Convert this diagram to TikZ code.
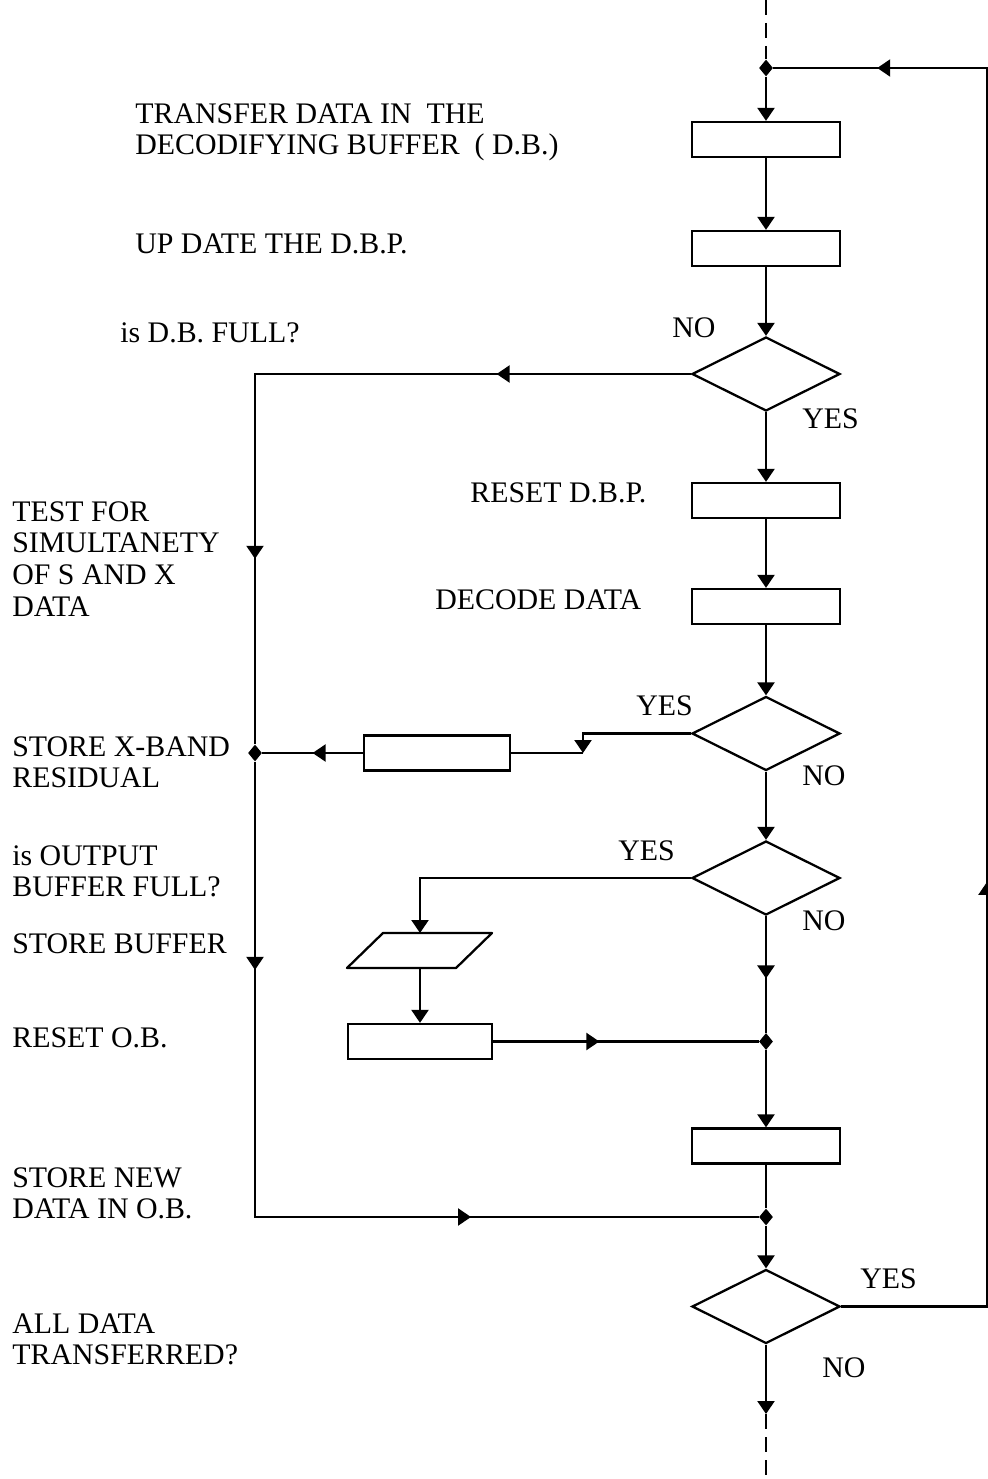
\documentclass[tikz,border=0pt]{standalone}
\usepackage{fontspec}
\setmainfont{Liberation Serif}
\usetikzlibrary{shapes.geometric, arrows.meta, positioning, decorations.markings, calc}

\tikzset{
  flowline/.style={line width=1.3pt},
  procbox/.style={draw, line width=1.3pt, minimum width=2.96cm, minimum height=0.7cm, inner sep=0pt},
  decbox/.style={draw, diamond, line width=1.3pt, minimum width=2.96cm, minimum height=1.48cm, inner sep=0pt},
  junction/.style={diamond, fill, inner sep=0pt, minimum width=0.28cm, minimum height=0.34cm},
  lbl/.style={font=\fontsize{17}{18.1}\selectfont, anchor=north west, inner sep=0pt, align=left},
  tip/.style={-{Triangle[width=0.34cm,length=0.26cm]}},
  midtip/.style={postaction={decorate, decoration={markings,
    mark=at position #1 with {\arrow{Triangle[width=0.34cm,length=0.26cm]}}}}},
}

\begin{document}
\begin{tikzpicture}[x=0.02cm, y=-0.02cm]
  \useasboundingbox (0,0) rectangle (987,1479);

  % main column
  \node[procbox] (transfer) at (766,139.5) {};
  \node[procbox] (update) at (766,248.5) {};
  \node[decbox] (dbfull) at (766,374) {};
  \node[procbox] (resetdbp) at (766,500.5) {};
  \node[procbox] (decode) at (766,606.5) {};
  \node[decbox] (simult) at (766,733.5) {};
  \node[decbox] (obfull) at (766,878) {};
  \node[procbox] (storenew) at (766,1146) {};
  \node[decbox] (alldone) at (766,1306.5) {};

  % side boxes
  \node[procbox, minimum width=2.92cm] (storex) at (437,753) {};
  \node[procbox, minimum width=2.88cm] (resetob) at (420,1041.5) {};
  % store buffer (parallelogram)
  \draw[line width=1.3pt, line join=round] (383,933) -- (492,933) -- (456,968) -- (347,968) -- cycle;
  \coordinate (storebuftop) at (420,933);
  \coordinate (storebufbot) at (420,968);

  % junctions
  \node[junction] (jtop) at (766,68) {};
  \node[junction] (jleft) at (255,753) {};
  \node[junction] (jmid) at (766,1041.5) {};
  \node[junction] (jlow) at (766,1217) {};

  \coordinate (topin) at (766,0);
  \coordinate (loopbr) at (987,1306.5);
  \coordinate (looptr) at (987,68);
  \coordinate (leftt) at (255,374);
  \coordinate (leftb) at (255,1217);
  \coordinate (simulta) at (583,733.5);
  \coordinate (simultb) at (583,753);
  \coordinate (obfulla) at (420,878);
  \coordinate (botmid) at (766,1414);
  \coordinate (botout) at (766,1479);

  % connectors
  \draw[flowline, dash pattern=on 0.3cm off 0.16cm] (topin) -- (jtop);
  \draw[flowline, midtip=0.357, midtip=0.935] (alldone.east) -- (loopbr) -- (looptr) -- (jtop);
  \draw[flowline, tip] (jtop) -- (transfer.north);
  \draw[flowline, tip] (transfer.south) -- (update.north);
  \draw[flowline, tip] (update.south) -- (dbfull.north);
  \draw[flowline, midtip=0.241, midtip=0.770] (dbfull.west) -- (leftt) -- (jleft);
  \draw[flowline, midtip=0.217, midtip=0.70] (jleft) -- (leftb) -- (jlow);
  \draw[flowline, tip] (dbfull.south) -- (resetdbp.north);
  \draw[flowline, tip] (resetdbp.south) -- (decode.north);
  \draw[flowline, tip] (decode.south) -- (simult.north);
  \draw[flowline, tip] (simult.west) -- (simulta) -- (simultb);
  \draw[flowline] (simultb) -- (storex.east);
  \draw[flowline, midtip=0.5] (storex.west) -- (jleft);
  \draw[flowline, tip] (simult.south) -- (obfull.north);
  \draw[flowline, tip] (obfull.west) -- (obfulla) -- (storebuftop);
  \draw[flowline, tip] (storebufbot) -- (resetob.north);
  \draw[flowline, midtip=0.40] (resetob.east) -- (jmid);
  \draw[flowline, midtip=0.535] (obfull.south) -- (jmid);
  \draw[flowline, tip] (jmid) -- (storenew.north);
  \draw[flowline] (storenew.south) -- (jlow);
  \draw[flowline, tip] (jlow) -- (alldone.north);
  \draw[flowline, tip] (alldone.south) -- (botmid);
  \draw[flowline, dash pattern=on 0.3cm off 0.16cm] (botmid) -- (botout);

  % step texts
  \node[lbl] (ttransfer) at (135,103) {TRANSFER DATA IN\ \ THE\\DECODIFYING BUFFER\ \ ( D.B.)};
  \node[lbl] (tupdate) at (135,233) {UP DATE THE D.B.P.};
  \node[lbl] (tdbfull) at (120,322) {is D.B. FULL?};
  \node[lbl] (tsimult) at (12,501) {TEST FOR\\SIMULTANETY\\OF S AND X\\DATA};
  \node[lbl] (tresetdbp) at (470,482) {RESET D.B.P.};
  \node[lbl] (tdecode) at (435,589) {DECODE DATA};
  \node[lbl] (tstorex) at (12,736) {STORE X-BAND\\RESIDUAL};
  \node[lbl] (tobfull) at (12,845) {is OUTPUT\\BUFFER FULL?};
  \node[lbl] (tstorebuf) at (12,933) {STORE BUFFER};
  \node[lbl] (tresetob) at (12,1027) {RESET O.B.};
  \node[lbl] (tstorenew) at (12,1167) {STORE NEW\\DATA IN O.B.};
  \node[lbl] (talldone) at (12,1313) {ALL DATA\\TRANSFERRED?};

  % branch texts
  \node[lbl] (no1) at (672,317) {NO};
  \node[lbl] (yes1) at (802,408) {YES};
  \node[lbl] (yes2) at (636,695) {YES};
  \node[lbl] (no2) at (802,765) {NO};
  \node[lbl] (yes3) at (618,840) {YES};
  \node[lbl] (no3) at (802,910) {NO};
  \node[lbl] (yes4) at (860,1268) {YES};
  \node[lbl] (no4) at (822,1357) {NO};
\end{tikzpicture}
\end{document}
